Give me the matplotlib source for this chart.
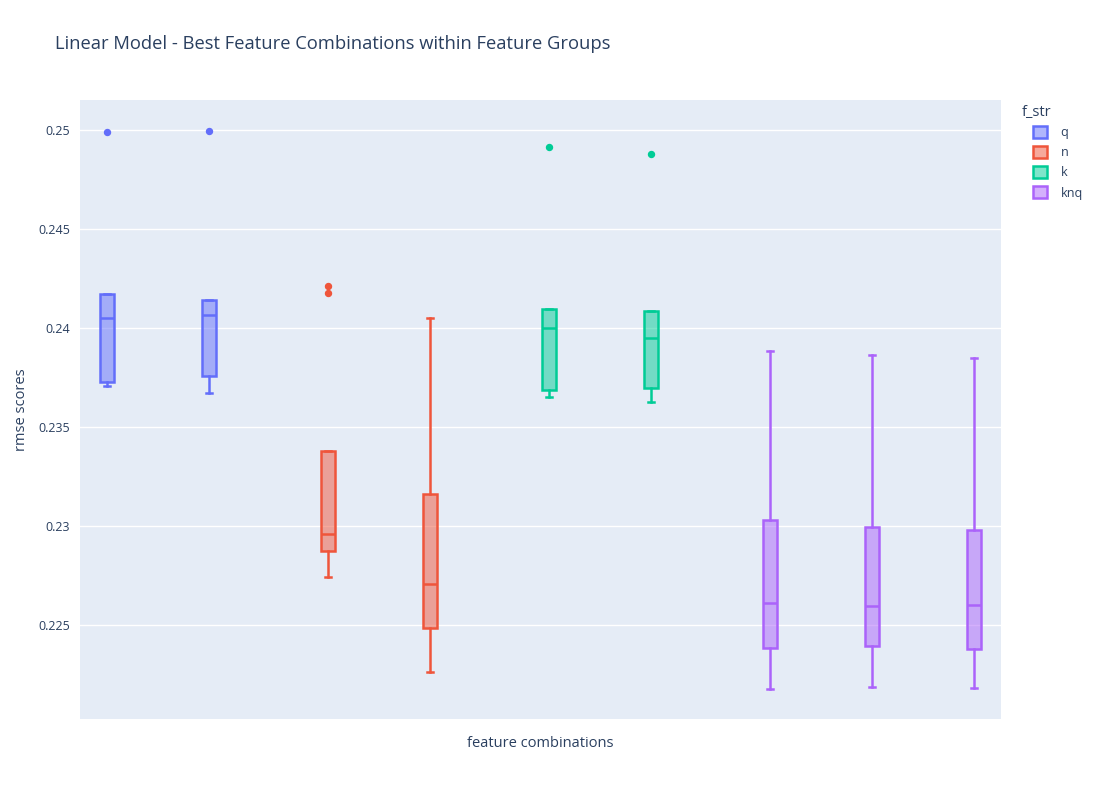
import matplotlib.pyplot as plt
from matplotlib.patches import Patch
from matplotlib.colors import to_rgba

# dados (9 combinacoes de features, 4 grupos)
groups = ['q', 'q', 'n', 'n', 'k', 'k', 'knq', 'knq', 'knq']
whislo = [0.23705, 0.23668, 0.22741, 0.22262, 0.23650, 0.23624, 0.22174, 0.22184, 0.22182]
q1 = [0.23723, 0.23757, 0.22873, 0.22481, 0.23684, 0.23694, 0.22381, 0.22391, 0.22376]
med = [0.24046, 0.24065, 0.22957, 0.22703, 0.23997, 0.23947, 0.22609, 0.22593, 0.22598]
q3 = [0.24168, 0.24140, 0.23375, 0.23161, 0.24092, 0.24083, 0.23028, 0.22991, 0.22977]
whishi = [0.24168, 0.24140, 0.23375, 0.24046, 0.24092, 0.24083, 0.23881, 0.23860, 0.23844]
fliers = [[0.24989], [0.24991], [0.24211, 0.24173], [], [0.24912], [0.24875], [], [], []]

legend_names = ['q', 'n', 'k', 'knq']
colors = {'q': '#636EFA', 'n': '#EF553B', 'k': '#00CC96', 'knq': '#AB63FA'}
offsets = {'q': -0.24, 'n': -0.08, 'k': 0.08, 'knq': 0.24}
yticks = [0.225, 0.23, 0.235, 0.24, 0.245, 0.25]
ytick_labels = ['0.225', '0.23', '0.235', '0.24', '0.245', '0.25']

text_color = '#2a3f5f'
plt.rcParams['font.family'] = ['Open Sans', 'DejaVu Sans']

fig = plt.figure(figsize=(11, 8), dpi=100)
ax = fig.add_axes([80 / 1100, 81 / 800, 921 / 1100, 619 / 800])
ax.set_facecolor('#E5ECF6')

for i, g in enumerate(groups):
    c = colors[g]
    stats = [{'whislo': whislo[i], 'q1': q1[i], 'med': med[i], 'q3': q3[i],
              'whishi': whishi[i], 'fliers': fliers[i]}]
    ax.bxp(stats, positions=[i + offsets[g]], widths=0.135, capwidths=0.06,
           patch_artist=True, showfliers=True,
           boxprops=dict(facecolor=to_rgba(c, 0.5), edgecolor=c, linewidth=1.8),
           medianprops=dict(color=c, linewidth=1.8),
           whiskerprops=dict(color=c, linewidth=1.8),
           capprops=dict(color=c, linewidth=1.8),
           flierprops=dict(marker='o', markerfacecolor=c, markeredgecolor=c,
                           markersize=4.3, linestyle='none'),
           zorder=3)

ax.set_xlim(-0.5, len(groups) - 0.5)
ax.set_ylim(0.22023, 0.25149)
ax.set_xticks([])
ax.set_yticks(yticks)
ax.set_yticklabels(ytick_labels)
ax.tick_params(axis='y', length=0, pad=7, labelsize=9, labelcolor=text_color)
ax.grid(True, axis='y', color='white', linewidth=1)
ax.set_axisbelow(True)
for s in ax.spines.values():
    s.set_visible(False)

ax.set_ylabel('rmse scores', fontsize=10.5, color=text_color, labelpad=7)
ax.set_xlabel('feature combinations', fontsize=10.5, color=text_color, labelpad=12)

fig.text(55 / 1100, 1 - 44 / 800, 'Linear Model - Best Feature Combinations within Feature Groups',
         fontsize=13.2, color=text_color, ha='left', va='center')

# legenda: titulo separado para ficar recuado como no original
fig.text(1022 / 1100, 1 - 113 / 800, 'f_str', fontsize=10.5, color=text_color,
         ha='left', va='center')
handles = [Patch(facecolor=to_rgba(colors[n], 0.5), edgecolor=colors[n], linewidth=1.8, label=n)
           for n in legend_names]
leg = fig.legend(handles=handles, loc='upper left',
                 bbox_to_anchor=(1033 / 1100, 1 - 126 / 800), frameon=False,
                 fontsize=9, handlelength=1.1, handleheight=1.1,
                 handletextpad=1.1, borderaxespad=0, borderpad=0,
                 labelspacing=0.55)
for t in leg.get_texts():
    t.set_color(text_color)

fig.savefig('out.png', dpi=100)
